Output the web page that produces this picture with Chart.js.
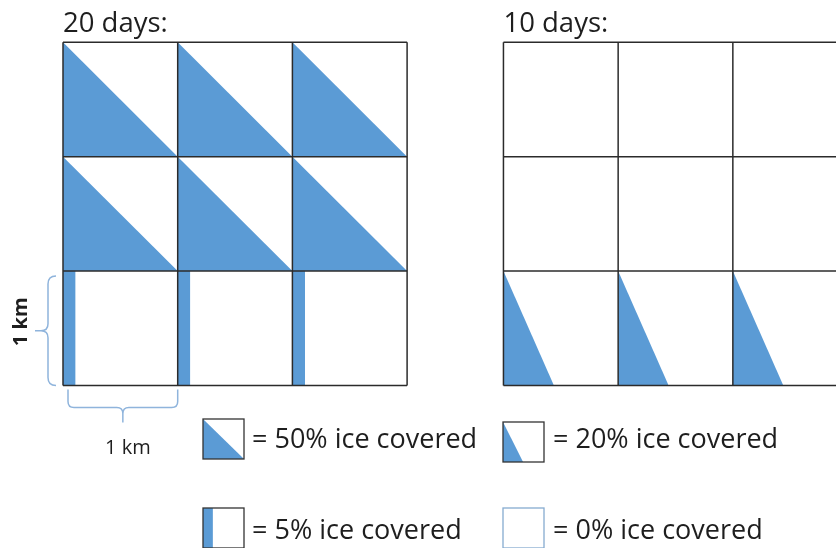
<!DOCTYPE html>
<html>
<head>
<meta charset="utf-8">
<script src="https://cdn.jsdelivr.net/npm/chart.js@4.4.1/dist/chart.umd.min.js"></script>
<style>
    body { margin: 0; background: #ffffff; }
    #wrap { width: 836px; height: 548px; position: relative; }
</style>
</head>
<body>
<div id="wrap"><canvas id="iceChart"></canvas></div>
<script>
// Grid titles
const titles = ['20 days:', '10 days:'];

// Ice cover (%) per cell, rows listed top to bottom
const cover20 = [
    [50, 50, 50],
    [50, 50, 50],
    [5, 5, 5]
];
const cover10 = [
    [0, 0, 0],
    [0, 0, 0],
    [20, 20, 20]
];

// Legend
const legendCover = [50, 20, 5, 0];
const legendText = ['= 50% ice covered', '= 20% ice covered', '= 5% ice covered', '= 0% ice covered'];

// Scale label
const kmLabel = '1 km';

// ---- layout / style ----
const W = 836, H = 548;
const unitX = 114.7, unitY = 114.4;     // pixels per km
const originX = 63, originY = 385.5;    // pixel of (0,0) for left grid
const gridOffset = [0, 3.84];           // x shift of each grid, km
const iceColor = '#5b9bd5';
const lineColor = '#2b2b2b';
const braceColor = '#8fb4dc';
const textColor = '#1e1e1e';
const fontName = '"Open Sans", sans-serif';

// how wide the blue shape is in a cell (fraction of the cell width)
function shapeWidth(c) {
    if (c >= 50) return 1;
    if (c >= 20) return 0.44;
    return 0.11;
}

// Build fill datasets from the cover tables
const datasets = [];
[cover20, cover10].forEach((grid, g) => {
    const x0 = gridOffset[g];
    grid.forEach((row, ri) => {
        const r = grid.length - 1 - ri; // bottom row is 0
        row.forEach((c, ci) => {
            if (c <= 0) return;
            const x = x0 + ci;
            const w = shapeWidth(c);
            let pts;
            if (c >= 20) {
                // triangle from top-left corner to the bottom edge
                pts = [{ x: x, y: r + 1 }, { x: x + w, y: r }];
            } else {
                // thin strip on the left side
                pts = [{ x: x, y: r + 1 }, { x: x + w, y: r + 1 }];
            }
            datasets.push({
                data: pts,
                fill: { value: r },
                backgroundColor: iceColor,
                borderColor: 'rgba(0,0,0,0)',
                borderWidth: 0,
                pointRadius: 0,
                order: 2
            });
        });
    });
});

// Grid lines
gridOffset.forEach(x0 => {
    for (let i = 0; i <= 3; i++) {
        datasets.push({
            data: [{ x: x0, y: i }, { x: x0 + 3, y: i }],
            borderColor: lineColor, borderWidth: 1.5, pointRadius: 0, fill: false, order: 1
        });
        datasets.push({
            data: [{ x: x0 + i, y: 0 }, { x: x0 + i, y: 3 }],
            borderColor: lineColor, borderWidth: 1.5, pointRadius: 0, fill: false, order: 1
        });
    }
});

// Text, braces and legend
const extras = {
    id: 'extras',
    afterDraw(chart) {
        const ctx = chart.ctx;
        const xs = chart.scales.x, ys = chart.scales.y;
        ctx.save();
        ctx.fillStyle = textColor;
        ctx.textBaseline = 'alphabetic';

        // titles
        ctx.font = '27.5px ' + fontName;
        ctx.textAlign = 'left';
        titles.forEach((t, i) => {
            ctx.fillText(t, xs.getPixelForValue(gridOffset[i]), 32);
        });

        // vertical brace beside the bottom-left cell
        const yt = ys.getPixelForValue(1) + 5, yb = ys.getPixelForValue(0);
        const ym = (yt + yb) / 2;
        const bx = xs.getPixelForValue(0) - 15;
        ctx.strokeStyle = braceColor;
        ctx.lineWidth = 1.5;
        ctx.beginPath();
        ctx.moveTo(bx + 8, yt);
        ctx.quadraticCurveTo(bx, yt, bx, yt + 8);
        ctx.lineTo(bx, ym - 7);
        ctx.quadraticCurveTo(bx, ym, bx - 7, ym);
        ctx.lineTo(bx - 13, ym);
        ctx.moveTo(bx + 8, yb);
        ctx.quadraticCurveTo(bx, yb, bx, yb - 8);
        ctx.lineTo(bx, ym + 7);
        ctx.quadraticCurveTo(bx, ym, bx - 7, ym);
        ctx.stroke();

        // horizontal brace below the bottom-left cell
        const xl = xs.getPixelForValue(0) + 5, xr = xs.getPixelForValue(1);
        const xm = (xl + xr) / 2;
        const by = yb + 22;
        ctx.beginPath();
        ctx.moveTo(xl, yb + 4);
        ctx.lineTo(xl, by - 6);
        ctx.quadraticCurveTo(xl, by, xl + 6, by);
        ctx.lineTo(xm - 6, by);
        ctx.quadraticCurveTo(xm, by, xm, by + 6);
        ctx.lineTo(xm, by + 15);
        ctx.moveTo(xr, yb + 4);
        ctx.lineTo(xr, by - 6);
        ctx.quadraticCurveTo(xr, by, xr - 6, by);
        ctx.lineTo(xm + 6, by);
        ctx.quadraticCurveTo(xm, by, xm, by + 6);
        ctx.stroke();

        // km labels
        ctx.textAlign = 'center';
        ctx.font = '20px ' + fontName;
        ctx.fillText(kmLabel, xm + 5, 454);
        ctx.save();
        ctx.translate(27, ym - 9);
        ctx.rotate(-Math.PI / 2);
        ctx.font = 'bold 20px ' + fontName;
        ctx.fillText(kmLabel, 0, 0);
        ctx.restore();

        // legend
        const iconX = [203, 503, 203, 503];
        const iconY = [419, 422, 508, 508];
        const textX = [252, 553, 252, 553];
        const baseY = [448, 448, 539, 539];
        const iw = 41, ih = 40;
        legendCover.forEach((c, i) => {
            const x = iconX[i], y = iconY[i];
            ctx.fillStyle = iceColor;
            if (c >= 20) {
                const f = c >= 50 ? 1 : 0.49;
                ctx.beginPath();
                ctx.moveTo(x, y);
                ctx.lineTo(x, y + ih);
                ctx.lineTo(x + iw * f, y + ih);
                ctx.closePath();
                ctx.fill();
            } else if (c > 0) {
                ctx.fillRect(x, y, iw * 0.24, ih + 2);
            }
            ctx.strokeStyle = c > 0 ? '#333333' : '#86abd0';
            ctx.lineWidth = 1.3;
            ctx.strokeRect(x, y, iw, ih);

            ctx.fillStyle = textColor;
            ctx.textAlign = 'left';
            ctx.font = '27px ' + fontName;
            ctx.fillText(legendText[i], textX[i], baseY[i]);
        });
        ctx.restore();
    }
};

const ctx = document.getElementById('iceChart').getContext('2d');

const config = {
    type: 'line',
    data: { datasets: datasets },
    options: {
        responsive: true,
        maintainAspectRatio: false,
        animation: false,
        events: [],
        layout: { padding: 0 },
        elements: { line: { tension: 0 } },
        plugins: {
            legend: { display: false },
            tooltip: { enabled: false }
        },
        scales: {
            x: {
                type: 'linear',
                display: false,
                min: -originX / unitX,
                max: (W - originX) / unitX
            },
            y: {
                type: 'linear',
                display: false,
                min: -(H - originY) / unitY,
                max: originY / unitY
            }
        }
    },
    plugins: [extras]
};

new Chart(ctx, config);
</script>
</body>
</html>
